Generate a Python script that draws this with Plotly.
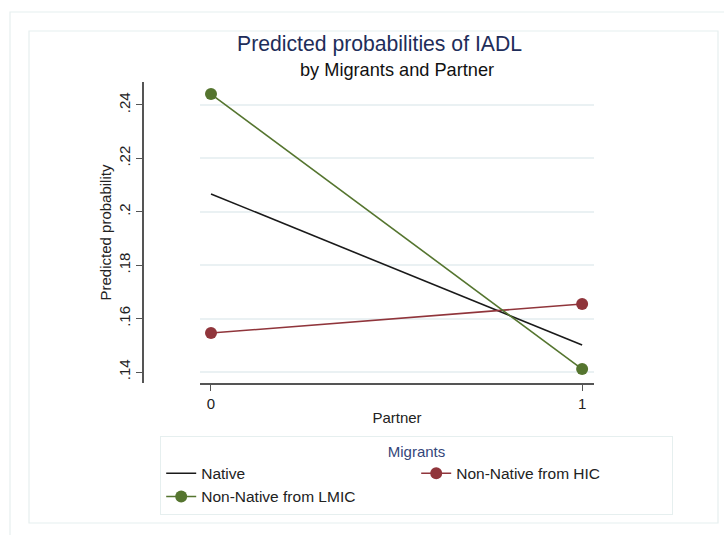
import plotly.graph_objects as go

# ---- data ----
partner = [0, 1]
native = [0.2067, 0.1501]
nonnative_hic = [0.1546, 0.1655]
nonnative_lmic = [0.2441, 0.1411]
series_names = ["Native", "Non-Native from HIC", "Non-Native from LMIC"]
y_tickvals = [0.14, 0.16, 0.18, 0.20, 0.22, 0.24]
y_ticktext = [".14", ".16", ".18", ".2", ".22", ".24"]
x_tickvals = [0, 1]
x_ticktext = ["0", "1"]

W, H = 724, 535
FONT = "Liberation Sans, Arial, sans-serif"

def px(x):
    return x / W

def py(y):
    return 1 - y / H

fig = go.Figure()
fig.add_trace(go.Scatter(x=partner, y=native, name=series_names[0], mode="lines",
                         line=dict(color="#1a1a1a", width=1.6)))
fig.add_trace(go.Scatter(x=partner, y=nonnative_hic, name=series_names[1], mode="lines+markers",
                         line=dict(color="#90353b", width=1.6),
                         marker=dict(color="#90353b", size=12)))
fig.add_trace(go.Scatter(x=partner, y=nonnative_lmic, name=series_names[2], mode="lines+markers",
                         line=dict(color="#55752f", width=1.6),
                         marker=dict(color="#55752f", size=12)))

shapes = [
    dict(type="rect", xref="paper", yref="paper", x0=px(10), x1=px(730), y0=py(540), y1=py(12),
         line=dict(color="#e6efef", width=1.2), fillcolor="rgba(0,0,0,0)", layer="below"),
    dict(type="rect", xref="paper", yref="paper", x0=px(29), x1=px(718), y0=py(523), y1=py(31),
         line=dict(color="#e6efef", width=1.2), fillcolor="rgba(0,0,0,0)", layer="below"),
]

annotations = [
    dict(text="Predicted probabilities of IADL", x=px(379), y=py(44), xref="paper", yref="paper",
         showarrow=False, xanchor="center", yanchor="middle",
         font=dict(family=FONT, size=21.2, color="#1e2d5a")),
    dict(text="by Migrants and Partner", x=px(397), y=py(70), xref="paper", yref="paper",
         showarrow=False, xanchor="center", yanchor="middle",
         font=dict(family=FONT, size=18.2, color="#111111")),
]

fig.update_layout(
    width=W, height=H,
    margin=dict(l=0, r=0, t=0, b=0),
    paper_bgcolor="white", plot_bgcolor="white",
    font=dict(family=FONT, size=15, color="#222222"),
    shapes=shapes, annotations=annotations,
    showlegend=True,
    legend=dict(
        orientation="h", x=px(160), xanchor="left", y=py(436), yanchor="top",
        bordercolor="#e6efef", borderwidth=1.2, bgcolor="white",
        entrywidth=210, entrywidthmode="pixels",
        title=dict(text="Migrants", side="top center",
                   font=dict(family=FONT, size=15, color="#34467a")),
        font=dict(family=FONT, size=15.5, color="#222222"),
        traceorder="normal",
    ),
    xaxis=dict(
        domain=[px(200), px(594)], range=[-0.0296, 1.032],
        tickvals=x_tickvals, ticktext=x_ticktext,
        showgrid=False, zeroline=False,
        showline=True, linecolor="#555555", linewidth=1.5,
        ticks="outside", ticklen=6, tickcolor="#555555", tickwidth=1.2,
        tickfont=dict(family=FONT, size=15, color="#222222"),
        title=dict(text="Partner", font=dict(family=FONT, size=15, color="#222222"), standoff=2),
    ),
    yaxis=dict(
        domain=[py(383), py(82)], range=[0.1359, 0.2486],
        anchor="free", position=px(143),
        tickvals=y_tickvals, ticktext=y_ticktext, tickangle=-90,
        showgrid=True, gridcolor="#eaf1f3", gridwidth=1.5,
        zeroline=False,
        showline=True, linecolor="#555555", linewidth=1.5,
        ticks="outside", ticklen=6, tickcolor="#555555", tickwidth=1.2,
        tickfont=dict(family=FONT, size=15, color="#222222"),
        title=dict(text="Predicted probability", font=dict(family=FONT, size=15, color="#222222"), standoff=0),
    ),
)

fig.write_html("out.html")
